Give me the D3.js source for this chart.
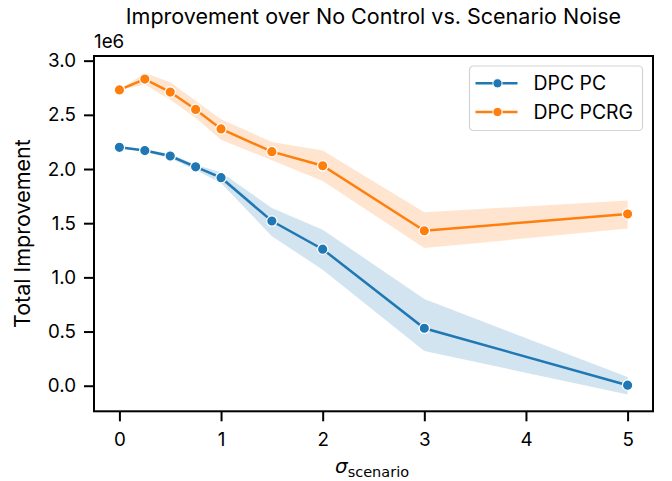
<!DOCTYPE html>
<html>
<head>
<meta charset="utf-8">
<script src="https://cdn.jsdelivr.net/npm/d3@7"></script>
<style>
  body { margin: 0; background: #fff; }
  svg { font-family: Inter, "Noto Sans", sans-serif; }
</style>
</head>
<body>
<svg id="chart" width="672" height="481"></svg>
<script>
// sigma_scenario values
const sigmas = [0, 0.25, 0.5, 0.75, 1, 1.5, 2, 3, 5];

// DPC PC (units of 1e6)
const pc_mean  = [2.20, 2.17, 2.12, 2.02, 1.92, 1.52, 1.26, 0.53, 0.005];
const pc_upper = [2.20, 2.18, 2.14, 2.04, 1.97, 1.64, 1.44, 0.80, 0.08];
const pc_lower = [2.20, 2.16, 2.10, 1.99, 1.87, 1.38, 1.07, 0.32, -0.08];

// DPC PCRG (units of 1e6)
const pcrg_mean  = [2.73, 2.83, 2.71, 2.55, 2.37, 2.16, 2.03, 1.43, 1.585];
const pcrg_upper = [2.73, 2.885, 2.80, 2.63, 2.46, 2.25, 2.17, 1.60, 1.71];
const pcrg_lower = [2.73, 2.78, 2.64, 2.47, 2.27, 2.08, 1.89, 1.27, 1.45];

const series_names = ["DPC PC", "DPC PCRG"];
const colors = ["#1f77b4", "#ff7f0e"];
const x_ticks = [0, 1, 2, 3, 4, 5];
const y_ticks = [0, 0.5, 1.0, 1.5, 2.0, 2.5, 3.0];

const svg = d3.select("#chart");
const ax_left = 94, ax_right = 653, ax_top = 56, ax_bottom = 411.3;

const x = d3.scaleLinear().domain([-0.25, 5.25]).range([ax_left, ax_right]);
const y = d3.scaleLinear().domain([-0.236, 3.043]).range([ax_bottom, ax_top]);

const series = [
    {name: series_names[0], color: colors[0], mean: pc_mean, upper: pc_upper, lower: pc_lower},
    {name: series_names[1], color: colors[1], mean: pcrg_mean, upper: pcrg_upper, lower: pcrg_lower}
];

const plot = svg.append("g");

// bands
const area = d3.area()
    .x(d => x(d.s))
    .y0(d => y(d.lo))
    .y1(d => y(d.hi));

series.forEach(s => {
    let pts = sigmas.map((v, i) => ({s: v, lo: s.lower[i], hi: s.upper[i]}));
    plot.append("path")
        .attr("d", area(pts))
        .attr("fill", s.color)
        .attr("fill-opacity", 0.2);
});

// lines and markers
const line = d3.line().x(d => x(d.s)).y(d => y(d.m));

series.forEach(s => {
    let pts = sigmas.map((v, i) => ({s: v, m: s.mean[i]}));
    plot.append("path")
        .attr("d", line(pts))
        .attr("fill", "none")
        .attr("stroke", s.color)
        .attr("stroke-width", 2.5);
    plot.append("g").selectAll("circle")
        .data(pts)
        .join("circle")
        .attr("cx", d => x(d.s))
        .attr("cy", d => y(d.m))
        .attr("r", 5.2)
        .attr("fill", s.color)
        .attr("stroke", "#fff")
        .attr("stroke-width", 1.25);
});

// axes
const x_axis = svg.append("g")
    .attr("transform", "translate(0," + ax_bottom + ")")
    .call(d3.axisBottom(x).tickValues(x_ticks).tickFormat(d3.format("d")).tickSize(10).tickPadding(11));
const y_axis = svg.append("g")
    .attr("transform", "translate(" + ax_left + ",0)")
    .call(d3.axisLeft(y).tickValues(y_ticks).tickFormat(d3.format(".1f")).tickSize(10).tickPadding(8));

[x_axis, y_axis].forEach(a => {
    a.select(".domain").remove();
    a.selectAll(".tick line").attr("stroke", "#000").attr("stroke-width", 2);
    a.selectAll(".tick text").attr("font-size", 18.8).attr("fill", "#000")
        .attr("font-family", "Inter, sans-serif");
});

// frame
svg.append("rect")
    .attr("x", ax_left).attr("y", ax_top)
    .attr("width", ax_right - ax_left).attr("height", ax_bottom - ax_top)
    .attr("fill", "none").attr("stroke", "#000").attr("stroke-width", 2);

// offset text
svg.append("text")
    .attr("x", ax_left).attr("y", 48)
    .attr("font-size", 18.8)
    .text("1e6");

// title
svg.append("text")
    .attr("x", (ax_left + ax_right) / 2).attr("y", 23.5)
    .attr("text-anchor", "middle")
    .attr("font-size", 21.5)
    .text("Improvement over No Control vs. Scenario Noise");

// y label
svg.append("text")
    .attr("transform", "translate(30," + ((ax_top + ax_bottom) / 2) + ") rotate(-90)")
    .attr("text-anchor", "middle")
    .attr("font-size", 21.5)
    .text("Total Improvement");

// x label
const xl = svg.append("text")
    .attr("x", 372).attr("y", 473)
    .attr("text-anchor", "middle")
    .attr("font-family", "DejaVu Sans")
    .attr("font-size", 20);
xl.append("tspan")
    .attr("font-style", "italic")
    .text("σ");
xl.append("tspan")
    .attr("font-size", 14.5)
    .attr("dy", 4)
    .text("scenario");

// legend
const lg = svg.append("g").attr("transform", "translate(469.5,66)");
lg.append("rect")
    .attr("width", 173).attr("height", 64.5)
    .attr("rx", 4)
    .attr("fill", "#fff").attr("fill-opacity", 0.8)
    .attr("stroke", "#d4d4d4").attr("stroke-width", 1.2);

series.forEach((s, i) => {
    let row = lg.append("g").attr("transform", "translate(0," + (17.3 + i * 28.7) + ")");
    row.append("line")
        .attr("x1", 6).attr("x2", 48)
        .attr("stroke", s.color).attr("stroke-width", 2.5);
    row.append("circle")
        .attr("cx", 28).attr("r", 4.6)
        .attr("fill", s.color).attr("stroke", "#fff").attr("stroke-width", 1);
    row.append("text")
        .attr("x", 64).attr("dy", "0.36em")
        .attr("font-size", 19.4)
        .text(s.name);
});
</script>
</body>
</html>
